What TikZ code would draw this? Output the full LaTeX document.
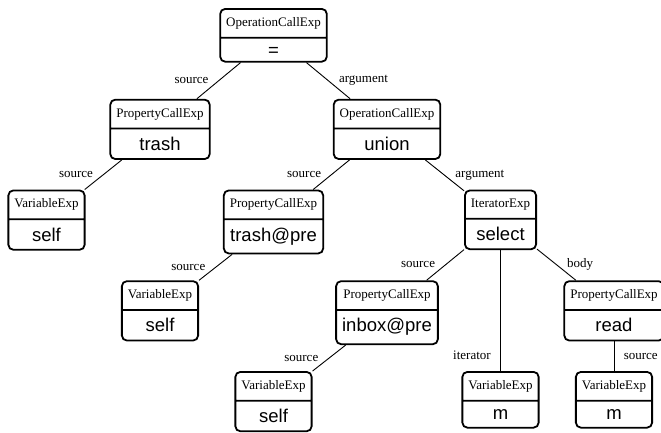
\documentclass[tikz,border=0pt]{standalone}
\usepackage{fontspec}
\setmainfont{Liberation Serif}
\newfontfamily\valfont{Liberation Sans}
\usetikzlibrary{calc, shapes.multipart, positioning}
\tikzset{
  expr/.style={
    rectangle split, rectangle split parts=2, draw=black, line width=1.8pt,
    rounded corners=5pt, inner xsep=6pt, inner ysep=7.6pt, anchor=north,
    font=\fontsize{13}{15}\selectfont
  },
  edge/.style={
    draw=black, line width=0.9pt
  },
  lbl/.style={
    font=\fontsize{13}{15}\selectfont, text=black
  }
}
\newcommand{\val}[1]{\nodepart{two}{\valfont\fontsize{18.5}{20}\selectfont #1}}

\begin{document}
\begin{tikzpicture}[x=1pt, y=-1pt]
        \useasboundingbox (0,0) rectangle (661,432);
        \node[expr] (e0) at (273.5,8) {OperationCallExp\val{\raisebox{-3pt}[7pt][0pt]{=}}};
        \node[expr] (e1) at ($(e0.north)+(-113.5,90.75)$) {PropertyCallExp\val{trash}};
        \node[expr] (e2) at ($(e0.north)+(113.5,90.75)$) {OperationCallExp\val{union}};
        \node[expr] (e3) at ($(e1.north)+(-113.5,90.75)$) {VariableExp\val{self}};
        \node[expr] (e4) at ($(e2.north)+(-113.5,90.75)$) {PropertyCallExp\val{trash@pre}};
        \node[expr] (e5) at ($(e2.north)+(113.5,90.75)$) {IteratorExp\val{select}};
        \node[expr] (e6) at ($(e4.north)+(-113.5,90.75)$) {VariableExp\val{self}};
        \node[expr] (e7) at ($(e5.north)+(-113.5,90.75)$) {PropertyCallExp\val{inbox@pre}};
        \node[expr] (e8) at ($(e5.north)+(113.5,90.75)$) {PropertyCallExp\val{read}};
        \node[expr] (e9) at ($(e7.north)+(-113.5,90.75)$) {VariableExp\val{self}};
        \node[expr] (e10) at ($(e5.north)+(0,181.5)$) {VariableExp\val{m}};
        \node[expr] (e11) at ($(e8.north)+(0,90.75)$) {VariableExp\val{m}};
        \draw[edge] (e0) -- node[lbl, left=6.5pt] {source} (e1);
        \draw[edge] (e0) -- node[lbl, right=7pt] {argument} (e2);
        \draw[edge] (e1) -- node[lbl, left=6.5pt] {source} (e3);
        \draw[edge] (e2) -- node[lbl, left=6.5pt] {source} (e4);
        \draw[edge] (e2) -- node[lbl, right=7pt] {argument} (e5);
        \draw[edge] (e4) -- node[lbl, left=6.5pt] {source} (e6);
        \draw[edge] (e5) -- node[lbl, left=6.5pt] {source} (e7);
        \draw[edge] (e5) -- node[lbl, pos=0.87, left=6pt] {iterator} (e10);
        \draw[edge] (e5) -- node[lbl, right=7pt] {body} (e8);
        \draw[edge] (e8) -- node[lbl, right=6pt] {source} (e11);
        \draw[edge] (e7) -- node[lbl, left=7pt] {source} (e9);
    \end{tikzpicture}
\end{document}
